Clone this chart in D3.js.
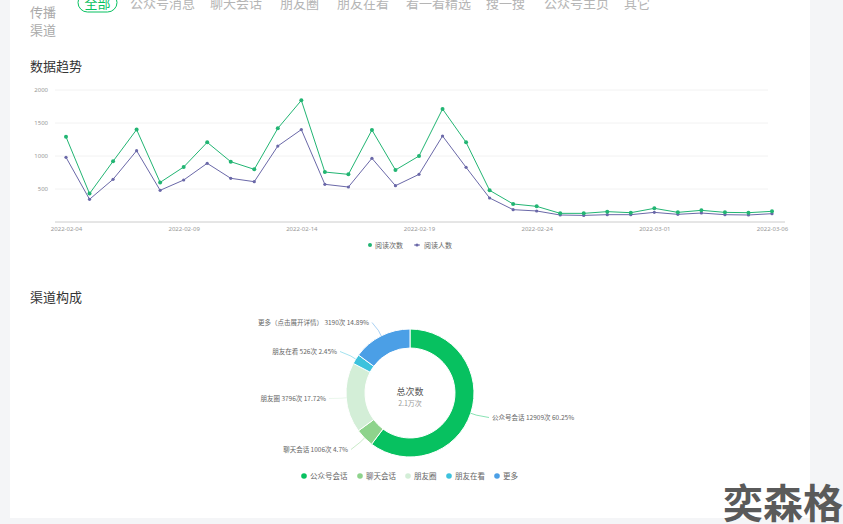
<!DOCTYPE html>
<html>
<head>
<meta charset="UTF-8">
<title>数据趋势</title>
<script src="https://cdn.jsdelivr.net/npm/d3@7/dist/d3.min.js"></script>
<style>
	body { margin: 0; background: #f4f5f7; font-family: "Noto Sans CJK SC", "Noto Sans", sans-serif; }
	#chart { width: 843px; height: 524px; }
</style>
</head>
<body>
<div id="chart"></div>
<script>
// tabs at the top
var tabs = ["公众号消息", "聊天会话", "朋友圈", "朋友在看", "看一看精选", "搜一搜", "公众号主页", "其它"];
var tabX = [130, 210, 280, 337, 406, 486, 544, 624];

// line chart data
var dates = ["2022-02-04","2022-02-05","2022-02-06","2022-02-07","2022-02-08","2022-02-09","2022-02-10","2022-02-11",
	"2022-02-12","2022-02-13","2022-02-14","2022-02-15","2022-02-16","2022-02-17","2022-02-18","2022-02-19",
	"2022-02-20","2022-02-21","2022-02-22","2022-02-23","2022-02-24","2022-02-25","2022-02-26","2022-02-27",
	"2022-02-28","2022-03-01","2022-03-02","2022-03-03","2022-03-04","2022-03-05","2022-03-06"];
var readCount = [1290, 430, 920, 1400, 600, 833, 1207, 914, 798, 1419, 1843, 757, 722, 1394, 788, 1000,
	1712, 1207, 480, 273, 237, 131, 131, 157, 141, 207, 146, 177, 146, 141, 162];
var readUsers = [980, 344, 647, 1080, 480, 636, 889, 662, 611, 1151, 1400, 571, 530, 965, 550, 722,
	1303, 828, 364, 187, 167, 106, 100, 111, 111, 146, 116, 136, 111, 106, 126];
var yTicks = [500, 1000, 1500, 2000];
var xTickLabels = ["2022-02-04","2022-02-09","2022-02-14","2022-02-19","2022-02-24","2022-03-01","2022-03-06"];
var lineNames = ["阅读次数", "阅读人数"];

// donut data
var channels = ["公众号会话", "聊天会话", "朋友圈", "朋友在看", "更多"];
var channelLabels = ["公众号会话", "聊天会话", "朋友圈", "朋友在看", "更多（点击展开详情）"];
var channelValues = [12909, 1006, 3796, 526, 3190];
var channelPct = ["60.25%", "4.7%", "17.72%", "2.45%", "14.89%"];

var green = "#22b573", purple = "#6a68a8";
var donutColors = ["#07c160", "#8ed38c", "#d3eed7", "#3dc2dd", "#4b9fe6"];

var svg = d3.select("#chart").append("svg").attr("width", 843).attr("height", 524);

// white card
svg.append("rect").attr("x", 10).attr("y", -10).attr("width", 800).attr("height", 528).attr("fill", "#fff");

// header filters (cut by the top edge, as in the screenshot)
svg.append("text").attr("x", 30).attr("y", 17).attr("font-size", 13).attr("fill", "#aaa").text("传播");
svg.append("text").attr("x", 30).attr("y", 35).attr("font-size", 13).attr("fill", "#aaa").text("渠道");
svg.append("rect").attr("x", 78).attr("y", -7).attr("width", 39).attr("height", 19).attr("rx", 9.5)
	.attr("fill", "#fff").attr("stroke", "#07c160").attr("stroke-width", 1);
svg.append("text").attr("x", 97.5).attr("y", 8).attr("text-anchor", "middle").attr("font-size", 13)
	.attr("fill", "#07c160").text("全部");
svg.selectAll(".tab").data(tabs).enter().append("text")
	.attr("x", function(d, i){ return tabX[i]; })
	.attr("y", 8).attr("font-size", 13).attr("fill", "#b5b5b5").text(function(d){ return d; });

// section titles
svg.append("text").attr("x", 30).attr("y", 71).attr("font-size", 13).attr("fill", "#333").text("数据趋势");
svg.append("text").attr("x", 30).attr("y", 302).attr("font-size", 13).attr("fill", "#333").text("渠道构成");

// ---- line chart ----
var x = d3.scalePoint().domain(dates).range([66, 772]);
var y = d3.scaleLinear().domain([0, 2000]).range([222, 90]);

var g = svg.append("g");

g.selectAll(".grid").data(yTicks).enter().append("line")
	.attr("x1", 55).attr("x2", 768)
	.attr("y1", function(d){ return y(d); }).attr("y2", function(d){ return y(d); })
	.attr("stroke", "#f2f2f2").attr("stroke-width", 1);

var yAxis = d3.axisLeft(y).tickValues(yTicks).tickFormat(d3.format("d")).tickSize(0).tickPadding(0);
g.append("g").attr("transform", "translate(48,0)").call(yAxis)
	.call(function(a){ a.select(".domain").remove(); })
	.selectAll("text").attr("font-size", 6).attr("fill", "#999").attr("font-family", "Noto Sans, sans-serif");

var xAxis = d3.axisBottom(x).tickValues(xTickLabels).tickSize(0).tickPadding(5);
var xa = g.append("g").attr("transform", "translate(0,222)").call(xAxis);
xa.select(".domain").remove();
xa.selectAll("text").attr("font-size", 6).attr("fill", "#999").attr("font-family", "Noto Sans, sans-serif");
g.append("line").attr("x1", 55).attr("x2", 785).attr("y1", 222).attr("y2", 222)
	.attr("stroke", "#ccc").attr("stroke-width", 1);

var line = d3.line().x(function(d, i){ return x(dates[i]); }).y(function(d){ return y(d); });

g.append("path").datum(readUsers).attr("d", line).attr("fill", "none")
	.attr("stroke", purple).attr("stroke-width", 1);
g.append("path").datum(readCount).attr("d", line).attr("fill", "none")
	.attr("stroke", green).attr("stroke-width", 1);

g.selectAll(".pu").data(readUsers).enter().append("circle")
	.attr("cx", function(d, i){ return x(dates[i]); }).attr("cy", function(d){ return y(d); })
	.attr("r", 1.6).attr("fill", purple);
g.selectAll(".pc").data(readCount).enter().append("circle")
	.attr("cx", function(d, i){ return x(dates[i]); }).attr("cy", function(d){ return y(d); })
	.attr("r", 2).attr("fill", green);

// line legend
var lg = svg.append("g").attr("transform", "translate(370,245)");
lg.append("circle").attr("cx", 0).attr("cy", 0).attr("r", 2).attr("fill", green);
lg.append("text").attr("x", 5).attr("y", 2.5).attr("font-size", 7).attr("fill", "#666").text(lineNames[0]);
lg.append("line").attr("x1", 44).attr("x2", 50).attr("y1", 0).attr("y2", 0).attr("stroke", purple);
lg.append("circle").attr("cx", 47).attr("cy", 0).attr("r", 1.6).attr("fill", purple);
lg.append("text").attr("x", 54).attr("y", 2.5).attr("font-size", 7).attr("fill", "#666").text(lineNames[1]);

// ---- donut ----
var cx = 410, cy = 393, rOuter = 64, rInner = 45;
var pie = d3.pie().sort(null).value(function(d){ return d; });
var arcs = pie(channelValues);
var arc = d3.arc().innerRadius(rInner).outerRadius(rOuter);
var dg = svg.append("g").attr("transform", "translate(" + cx + "," + cy + ")");

dg.selectAll("path").data(arcs).enter().append("path")
	.attr("d", arc)
	.attr("fill", function(d, i){ return donutColors[i]; })
	.attr("stroke", "#fff").attr("stroke-width", 1);

dg.append("text").attr("x", 0).attr("y", 2).attr("text-anchor", "middle").attr("font-size", 9)
	.attr("fill", "#555").text("总次数");
dg.append("text").attr("x", 0).attr("y", 13).attr("text-anchor", "middle").attr("font-size", 7)
	.attr("fill", "#999").text((d3.sum(channelValues) / 10000).toFixed(1) + "万次");

// label leader lines
var rLabel = rOuter + 6;
var labelPos = [
	{ x: 492, y: 420, anchor: "start" },
	{ x: 348, y: 452, anchor: "end" },
	{ x: 326, y: 401, anchor: "end" },
	{ x: 337, y: 354, anchor: "end" },
	{ x: 369, y: 325, anchor: "end" }
];
arcs.forEach(function(a, i){
	var mid = (a.startAngle + a.endAngle) / 2;
	var p0 = [Math.sin(mid) * rOuter, -Math.cos(mid) * rOuter];
	var p1 = [Math.sin(mid) * rLabel, -Math.cos(mid) * rLabel];
	var lp = labelPos[i];
	var ex = lp.x - cx + (lp.anchor == "start" ? -3 : 3);
	var ey = lp.y - cy - 2.5;
	dg.append("polyline")
		.attr("points", [p0, p1, [ex, ey]].map(function(p){ return p.join(","); }).join(" "))
		.attr("fill", "none").attr("stroke", donutColors[i])
		.attr("stroke-opacity", 0.6).attr("stroke-width", 0.8);
	svg.append("text").attr("x", lp.x).attr("y", lp.y).attr("text-anchor", lp.anchor)
		.attr("font-size", 6.5).attr("fill", "#666")
		.text(channelLabels[i] + " " + channelValues[i] + "次 " + channelPct[i]);
});

// donut legend
var legX = [304, 360, 408, 449, 497];
var dl = svg.selectAll(".dleg").data(channels).enter().append("g")
	.attr("transform", function(d, i){ return "translate(" + legX[i] + ",476)"; });
dl.append("circle").attr("r", 2.8).attr("fill", function(d, i){ return donutColors[i]; });
dl.append("text").attr("x", 6).attr("y", 2.5).attr("font-size", 7.5).attr("fill", "#666")
	.text(function(d){ return d; });

// watermark
svg.append("text").attr("x", 843).attr("y", 518).attr("text-anchor", "end")
	.attr("font-size", 40).attr("font-weight", "bold").attr("fill", "#5a5a5a")
	.attr("font-family", "Noto Sans CJK SC, sans-serif").text("奕森格");
</script>
</body>
</html>
